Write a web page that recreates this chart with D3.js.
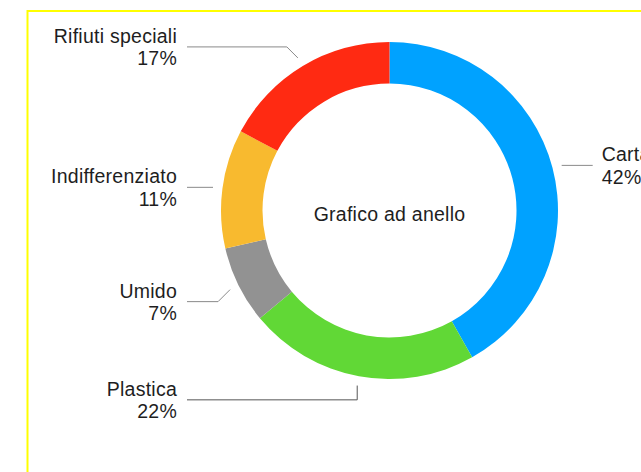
<!DOCTYPE html>
<html>
<head>
<meta charset="utf-8">
<script src="https://cdn.jsdelivr.net/npm/d3@7"></script>
<style>
  html, body { margin: 0; padding: 0; background: #fff; }
  svg { display: block; }
  text { font-family: "Liberation Sans", Arial, Helvetica, sans-serif; fill: #1e1e1e; }
</style>
</head>
<body>
<svg id="chart" width="641" height="472"></svg>
<script>
// ---- data ----
const categories = ["Carta", "Plastica", "Umido", "Indifferenziato", "Rifiuti speciali"];
const values = [41.8, 22.1, 7.4, 11.4, 17.2];
const percentLabels = ["42%", "22%", "7%", "11%", "17%"];
const colors = ["#00A2FF", "#61D836", "#929292", "#F8BA2F", "#FF2A12"];
const centerTitle = "Grafico ad anello";

// ---- layout ----
const W = 641, H = 472;
const cx = 389.5, cy = 210.5;
const outerR = 168.5, innerR = 127;
const leaderR = 178;
const fontSize = "19.5px", letterSp = "0.25px";
// per-label leader adjustments (vertical shift of the label line, elbow type)
const labelShift = [0, 14.3, 12, 0, -11];
const elbowType = ["none", "vertical", "diag", "none", "diag"];

const svg = d3.select("#chart");

svg.append("rect")
  .attr("x", 27.5).attr("y", 11)
  .attr("width", 700).attr("height", 600)
  .attr("fill", "none")
  .attr("stroke", "#FFFF00")
  .attr("stroke-width", 2);

const g = svg.append("g").attr("transform", `translate(${cx},${cy})`);

const pie = d3.pie().sort(null).value(d => d.value).startAngle(0).endAngle(2 * Math.PI);
const data = categories.map((c, i) => ({ name: c, value: values[i], pct: percentLabels[i], color: colors[i], i }));
const arcs = pie(data);

const arc = d3.arc().innerRadius(innerR).outerRadius(outerR);

g.selectAll("path.slice")
  .data(arcs)
  .join("path")
  .attr("class", "slice")
  .attr("d", arc)
  .attr("fill", d => d.data.color);

g.append("text")
  .attr("x", 0).attr("y", 10.5)
  .attr("text-anchor", "middle")
  .style("font-size", fontSize)
  .style("letter-spacing", letterSp)
  .text(centerTitle);

// leaders and labels
const leftTextX = 177 - cx;   // right edge of left labels
const leftLineX = 187 - cx;
const rightLineEnd = 592.7 - cx;
const rightTextX = 601.7 - cx;

arcs.forEach((a, idx) => {
  const mid = (a.startAngle + a.endAngle) / 2;
  const px = leaderR * Math.sin(mid);
  const py = -leaderR * Math.cos(mid);
  const isRight = px > 0;
  const shift = labelShift[idx];
  const ly = py + shift;
  let pts = [[px, py]];
  let ex = px;
  if (elbowType[idx] === "diag") {
    ex = isRight ? px + Math.abs(shift) : px - Math.abs(shift);
    pts.push([ex, ly]);
  } else if (elbowType[idx] === "vertical") {
    pts.push([px, ly]);
  }
  pts.push([isRight ? rightLineEnd : leftLineX, ly]);

  g.append("path")
    .attr("d", d3.line()(pts))
    .attr("fill", "none")
    .attr("stroke", elbowType[idx] === "vertical" ? "#555" : "#8a8a8a")
    .attr("stroke-width", 1);

  const t = g.append("text")
    .attr("text-anchor", isRight ? "start" : "end")
    .style("font-size", fontSize)
    .style("letter-spacing", letterSp);
  const tx = isRight ? rightTextX : leftTextX;
  t.append("tspan").attr("x", tx).attr("y", ly - 4).text(a.data.name);
  t.append("tspan").attr("x", tx).attr("y", ly + 18.5).text(a.data.pct);
});
</script>
</body>
</html>
